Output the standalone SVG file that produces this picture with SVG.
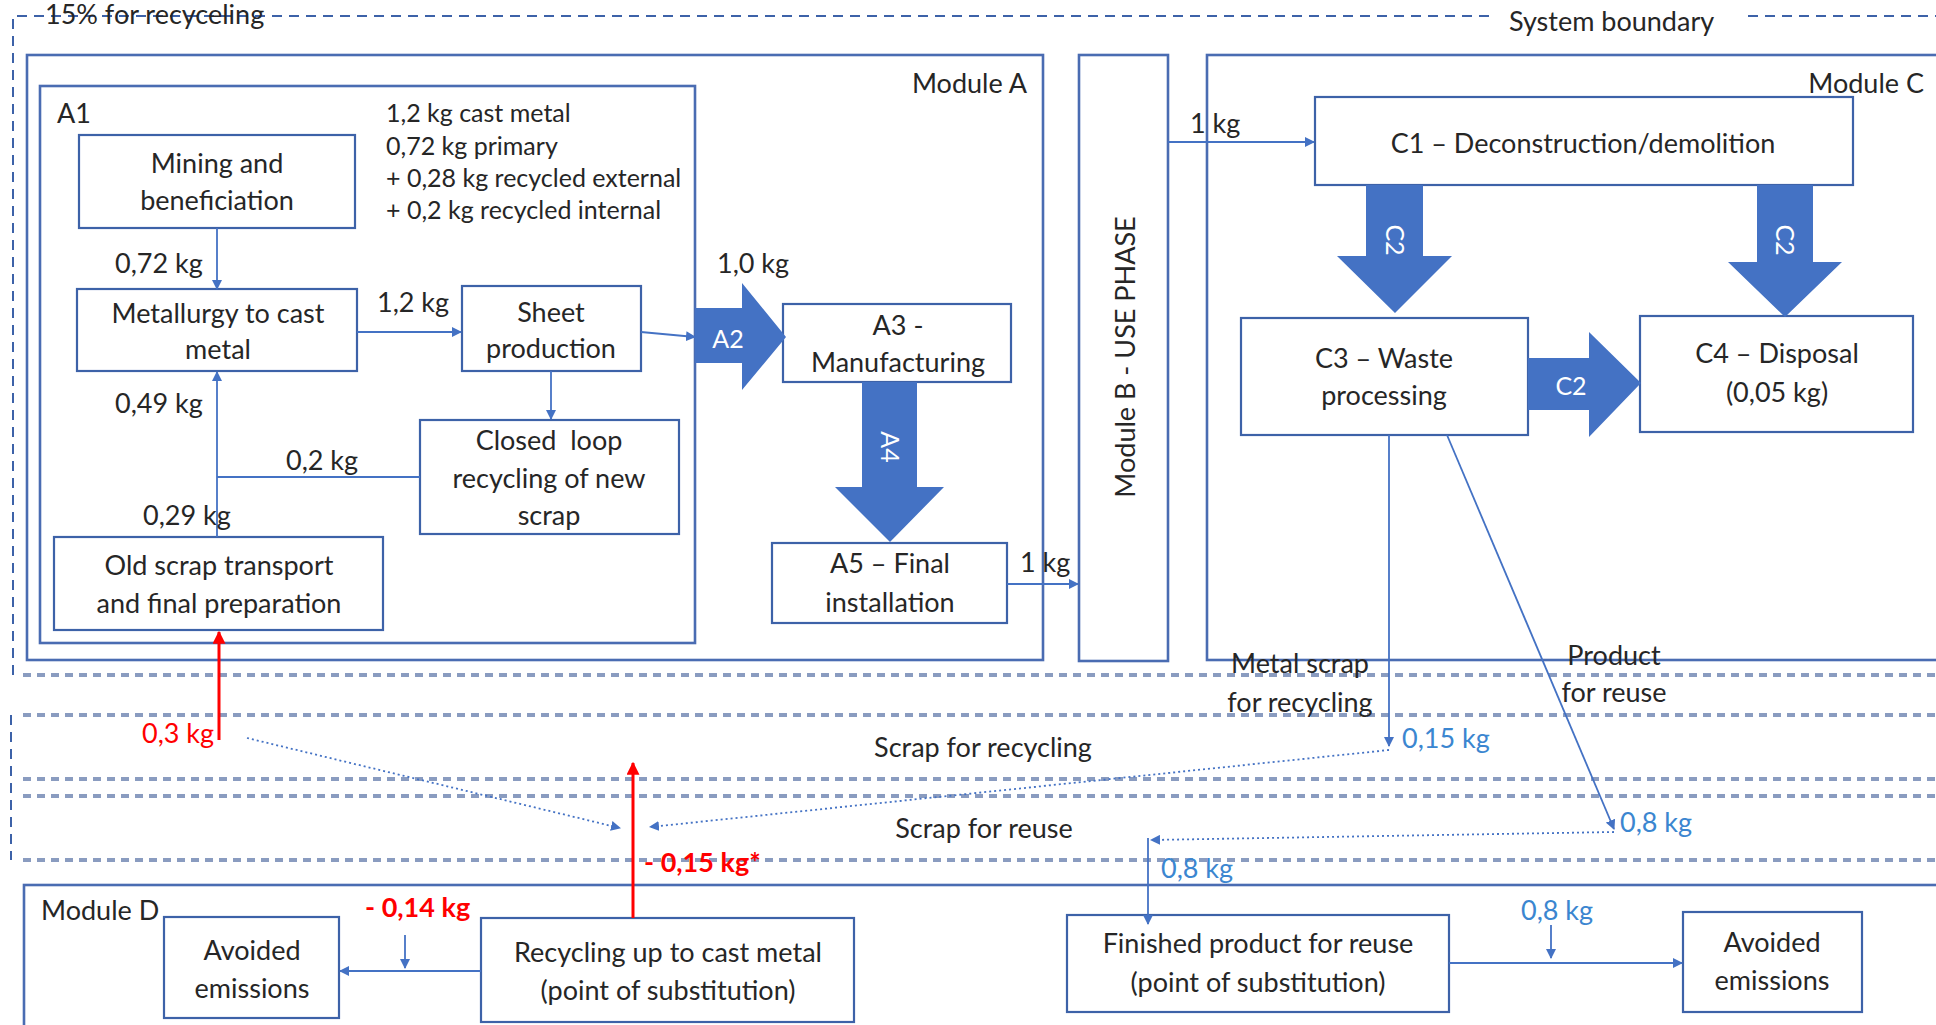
<svg xmlns="http://www.w3.org/2000/svg" width="1936" height="1025" viewBox="0 0 1936 1025">
<style>
text{font-family:Lato,"Open Sans","Liberation Sans",sans-serif;fill:#262626;font-size:27px}
.m{text-anchor:middle}
.s{font-size:25px}
.box{fill:#fff;stroke:#3d62a8;stroke-width:2.2}
.mod{fill:none;stroke:#4a6cb2;stroke-width:2.6}
.blk{fill:#4472c4}
.wt{fill:#fff;font-size:25px}
.red{fill:#ff0000}
.blue{fill:#3b86d0}
.con{stroke:#4472c4;stroke-width:1.8;fill:none}
.dot{stroke:#4472c4;stroke-width:1.8;fill:none;stroke-dasharray:2 3}
.band{stroke:#8a9cc0;stroke-width:4;stroke-dasharray:8 6;fill:none}
.bnd{stroke:#3d62a8;stroke-width:2;stroke-dasharray:10 7;fill:none}
.rl{stroke:#ff0000;stroke-width:3;fill:none}
</style>
<defs>
<marker id="ah" viewBox="0 0 10 10" refX="9" refY="5" markerWidth="10" markerHeight="10" markerUnits="userSpaceOnUse" orient="auto"><path d="M0,0L10,5L0,10z" fill="#4472c4"/></marker>
<marker id="ar" viewBox="0 0 10 10" refX="9" refY="5" markerWidth="13" markerHeight="13" markerUnits="userSpaceOnUse" orient="auto"><path d="M0,0L10,5L0,10z" fill="#ff0000"/></marker>
</defs>
<rect width="1936" height="1025" fill="#fff"/>

<g id="boundaries">
<path class="bnd" d="M13,675V16H1493M1748,16H1936"/>
<text x="45" y="24">15% for recyceling</text>
<text x="1509" y="31">System boundary</text>
<path class="band" d="M23,675H1936M23,715H1936M23,779H1936M23,796H1936M23,860H1936"/>
<path class="bnd" d="M11,715V860"/>
<text class="m" x="983" y="757">Scrap for recycling</text>
<text class="m" x="984" y="838">Scrap for reuse</text>
</g>

<g id="moduleA">
<rect class="mod" x="27" y="55" width="1016" height="605"/>
<text x="1027" y="93" text-anchor="end">Module A</text>
</g>
<g id="A1">
<rect class="mod" x="40" y="86" width="655" height="557" stroke="#6283c4"/>
<text x="57" y="123">A1</text>
<text class="s" x="386" y="122">1,2 kg cast metal</text>
<text class="s" x="386" y="155">0,72 kg primary</text>
<text class="s" x="386" y="187">+ 0,28 kg recycled external</text>
<text class="s" x="386" y="219">+ 0,2 kg recycled internal</text>
</g>
<g id="moduleB">
<rect class="mod" x="1079" y="55" width="89" height="606"/>
<text class="m" transform="translate(1135,357) rotate(-90)">Module B - USE PHASE</text>
</g>
<g id="moduleC">
<rect class="mod" x="1207" y="55" width="760" height="605"/>
<text x="1924" y="93" text-anchor="end">Module C</text>
</g>
<g id="moduleD">
<rect class="mod" x="24" y="885" width="1960" height="160"/>
<text x="41" y="920">Module D</text>
</g>

<g id="mining"><rect class="box" x="79" y="135" width="276" height="93"/>
<text class="m" x="217" y="173">Mining and</text><text class="m" x="217" y="210">beneficiation</text></g>
<g id="metallurgy"><rect class="box" x="77" y="289" width="280" height="82"/>
<text class="m" x="218" y="323">Metallurgy to cast</text><text class="m" x="218" y="359">metal</text></g>
<g id="sheet"><rect class="box" x="462" y="286" width="179" height="85"/>
<text class="m" x="551" y="322">Sheet</text><text class="m" x="551" y="358">production</text></g>
<g id="closedloop"><rect class="box" x="420" y="420" width="259" height="114"/>
<text class="m" x="549" y="450" xml:space="preserve">Closed  loop</text><text class="m" x="549" y="488">recycling of new</text><text class="m" x="549" y="525">scrap</text></g>
<g id="oldscrap"><rect class="box" x="54" y="537" width="329" height="93"/>
<text class="m" x="219" y="575">Old scrap transport</text><text class="m" x="219" y="613">and final preparation</text></g>
<g id="A3"><rect class="box" x="783" y="304" width="228" height="78"/>
<text class="m" x="898" y="335">A3 -</text><text class="m" x="898" y="372">Manufacturing</text></g>
<g id="A5"><rect class="box" x="772" y="543" width="235" height="80"/>
<text class="m" x="890" y="573">A5 – Final</text><text class="m" x="890" y="612">installation</text></g>
<g id="C1"><rect class="box" x="1315" y="97" width="538" height="88"/>
<text class="m" x="1583" y="153">C1 – Deconstruction/demolition</text></g>
<g id="C3"><rect class="box" x="1241" y="318" width="287" height="117"/>
<text class="m" x="1384" y="368">C3 – Waste</text><text class="m" x="1384" y="405">processing</text></g>
<g id="C4"><rect class="box" x="1640" y="316" width="273" height="116"/>
<text class="m" x="1777" y="363">C4 – Disposal</text><text class="m" x="1777" y="402">(0,05 kg)</text></g>
<g id="avoided1"><rect class="box" x="164" y="917" width="175" height="101"/>
<text class="m" x="252" y="960">Avoided</text><text class="m" x="252" y="998">emissions</text></g>
<g id="recycling"><rect class="box" x="481" y="918" width="373" height="104"/>
<text class="m" x="668" y="962">Recycling up to cast metal</text><text class="m" x="668" y="1000">(point of substitution)</text></g>
<g id="finished"><rect class="box" x="1067" y="915" width="382" height="97"/>
<text class="m" x="1258" y="953">Finished product for reuse</text><text class="m" x="1258" y="992">(point of substitution)</text></g>
<g id="avoided2"><rect class="box" x="1683" y="912" width="179" height="100"/>
<text class="m" x="1772" y="952">Avoided</text><text class="m" x="1772" y="990">emissions</text></g>

<g id="blockarrows">
<polygon class="blk" points="695,308 742,308 742,283 786,337 742,390 742,363 695,363"/>
<text class="wt m" x="728" y="348">A2</text>
<polygon class="blk" points="862,382 917,382 917,487 944,487 890,542 835,487 862,487"/>
<text class="wt m" transform="translate(881,447) rotate(90)">A4</text>
<polygon class="blk" points="1366,185 1423,185 1423,256 1452,256 1395,313 1337,256 1366,256"/>
<text class="wt m" transform="translate(1386,240) rotate(90)">C2</text>
<polygon class="blk" points="1757,185 1813,185 1813,262 1842,262 1785,317 1728,262 1757,262"/>
<text class="wt m" transform="translate(1776,240) rotate(90)">C2</text>
<polygon class="blk" points="1528,358 1589,358 1589,332 1641,383 1589,437 1589,410 1528,410"/>
<text class="wt m" x="1571" y="395">C2</text>
</g>

<g id="connectors">
<path class="con" d="M217,228V289" marker-end="url(#ah)"/>
<path class="con" d="M357,332H461" marker-end="url(#ah)"/>
<path class="con" d="M641,332L695,337" marker-end="url(#ah)"/>
<path class="con" d="M551,371V419" marker-end="url(#ah)"/>
<path class="con" d="M420,477H217"/>
<path class="con" d="M217,537V372" marker-end="url(#ah)"/>
<path class="con" d="M1007,584H1078" marker-end="url(#ah)"/>
<path class="con" d="M1168,142H1314" marker-end="url(#ah)"/>
<path class="con" d="M1389,435V746" marker-end="url(#ah)"/>
<path class="con" d="M1447,435L1614,829" marker-end="url(#ah)"/>
<path class="dot" d="M247,738L620,828" marker-end="url(#ah)"/>
<path class="dot" d="M1389,750L650,827" marker-end="url(#ah)"/>
<path class="dot" d="M1614,832L1151,840" marker-end="url(#ah)"/>
<path class="con" d="M1148,838V924" marker-end="url(#ah)"/>
<path class="con" d="M481,971H340" marker-end="url(#ah)"/>
<path class="con" d="M405,935V968" marker-end="url(#ah)"/>
<path class="con" d="M1449,963H1682" marker-end="url(#ah)"/>
<path class="con" d="M1551,925V958" marker-end="url(#ah)"/>
<path class="rl" d="M219,740V632" marker-end="url(#ar)"/>
<path class="rl" d="M633,918V763" marker-end="url(#ar)"/>
</g>

<g id="labels">
<text x="115" y="273">0,72 kg</text>
<text x="377" y="312">1,2 kg</text>
<text x="286" y="470">0,2 kg</text>
<text x="115" y="413">0,49 kg</text>
<text x="143" y="525">0,29 kg</text>
<text x="717" y="273">1,0 kg</text>
<text x="1020" y="572">1 kg</text>
<text x="1190" y="133">1 kg</text>
<text class="m" x="1300" y="673">Metal scrap</text>
<text class="m" x="1300" y="712">for recycling</text>
<text class="m" x="1614" y="665">Product</text>
<text class="m" x="1614" y="702">for reuse</text>
<text class="blue" x="1402" y="748">0,15 kg</text>
<text class="blue" x="1620" y="832">0,8 kg</text>
<text class="blue" x="1161" y="878">0,8 kg</text>
<text class="blue" x="1521" y="920">0,8 kg</text>
<text class="red" x="142" y="743">0,3 kg</text>
<text class="red" x="644" y="872" font-weight="bold">- 0,15 kg*</text>
<text class="red" x="365" y="917" font-weight="bold">- 0,14 kg</text>
</g>
</svg>
